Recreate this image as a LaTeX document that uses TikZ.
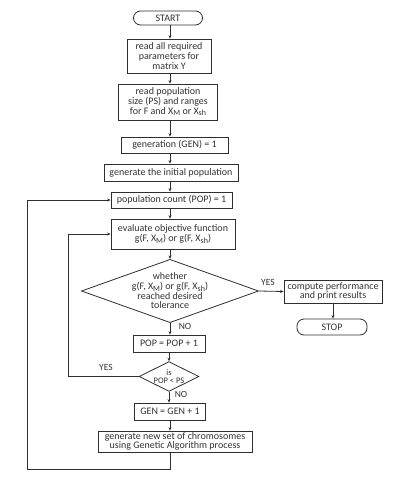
\documentclass[tikz,border=0pt]{standalone}
\usepackage{fontspec}
\setmainfont{Carlito}
\usepackage{tikz}
\usetikzlibrary{shapes.geometric,arrows.meta}

% Pedice grande come nel disegno
\newcommand{\pedice}[1]{\raisebox{-0.35ex}{\fontsize{8}{8}\selectfont #1}}

\begin{document}
\begin{tikzpicture}[x=1pt,y=-1pt,
  blocco/.style={draw=lineDark, line width=0.8pt, fill=white, text=textGray,
    font=\fontsize{10}{9.7}\selectfont, align=center, inner sep=0.5pt},
  termine/.style={blocco, rounded corners=7pt},
  scelta/.style={blocco, diamond, aspect=2.8, inner sep=0pt},
  freccia/.style={draw=lineDark, line width=0.8pt, -{Stealth[length=3.5pt,width=3pt]}},
  etichetta/.style={text=textGray, font=\fontsize{9.5}{9.7}\selectfont}]

% Colori
\definecolor{lineDark}{HTML}{2E2E2E}
\definecolor{textGray}{HTML}{333333}

% Area del disegno
\useasboundingbox (0,0) rectangle (413,479);

% Blocchi
\node[termine, minimum width=69pt, minimum height=14pt] (start) at (168,18) {START};
\node[blocco, minimum width=84pt, minimum height=34pt] (param) at (169,56)
  {read all required\\parameters for\\matrix Y};
\node[blocco, minimum width=99pt, minimum height=36pt] (lettura) at (168,102)
  {read population\\size (PS) and ranges\\for F and X\pedice{M} or X\pedice{sh}};
\node[blocco, minimum width=107pt, minimum height=16pt] (gen1) at (174.5,145) {generation (GEN) = 1};
\node[blocco, minimum width=134pt, minimum height=17pt] (iniz) at (171,172.5) {generate the initial population};
\node[blocco, minimum width=121pt, minimum height=16pt] (popc) at (171.5,200) {population count (POP) = 1};
\node[blocco, minimum width=124pt, minimum height=30pt] (valuta) at (173,234)
  {evaluate objective function\\g(F, X\pedice{M}) or g(F, X\pedice{sh})};
\node[scelta, minimum width=175pt, minimum height=62pt] (toll) at (170,291)
  {whether\\g(F, X\pedice{M}) or g(F, X\pedice{sh})\\reached desired\\tolerance};
\node[blocco, minimum width=98pt, minimum height=23pt] (risult) at (333,291.5)
  {compute performance\\and print results};
\node[termine, minimum width=70pt, minimum height=16pt] (stop) at (332,327) {STOP};
\node[blocco, minimum width=72pt, minimum height=17pt] (incr) at (169,343.5) {POP = POP + 1};
\node[scelta, aspect=2, minimum width=60pt, minimum height=29pt,
  font=\fontsize{8.5}{8.5}\selectfont] (conf) at (169,376.5) {is\\POP < PS};
\node[blocco, minimum width=71pt, minimum height=17pt] (genp) at (170,411.5) {GEN = GEN + 1};
\node[blocco, minimum width=154pt, minimum height=21pt] (nuovi) at (175,441.5)
  {generate new set of chromosomes\\using Genetic Algorithm process};

% Punti dei ritorni
\coordinate (angoloA) at (27,469);
\coordinate (angoloB) at (68,376.5);

% Frecce principali
\draw[freccia] (start.south -| toll.center) -- (param.north -| toll.center);
\draw[freccia] (param.south -| toll.center) -- (lettura.north -| toll.center);
\draw[freccia] (lettura.south -| toll.center) -- (gen1.north -| toll.center);
\draw[freccia] (gen1.south -| toll.center) -- (iniz.north -| toll.center);
\draw[freccia] (iniz.south -| toll.center) -- (popc.north -| toll.center);
\draw[freccia] (popc.south -| toll.center) -- (valuta.north -| toll.center);
\draw[freccia] (valuta.south -| toll.center) -- (toll.north);
\draw[freccia] (toll.south) -- (incr.north -| toll.south);
\draw[freccia] (incr.south -| conf.north) -- (conf.north);
\draw[freccia] (conf.south) -- (genp.north -| conf.south);
\draw[freccia] (genp.south -| toll.center) -- (nuovi.north -| toll.center);

% Uscita
\draw[freccia] (toll.east) -- (risult.west);
\draw[freccia] (risult.south) -- (risult.south |- stop.north);

% Ritorni
\draw[freccia] (conf.west) -- (angoloB) |- (valuta.west);
\draw[freccia] (nuovi.south -| toll.center) |- (angoloA) |- (popc.west);

% Etichette
\node[etichetta] (si1) at (268,282) {YES};
\node[etichetta] (no1) at (185,326) {NO};
\node[etichetta] (si2) at (106,367) {YES};
\node[etichetta] (no2) at (181,394) {NO};

\end{tikzpicture}
\end{document}
